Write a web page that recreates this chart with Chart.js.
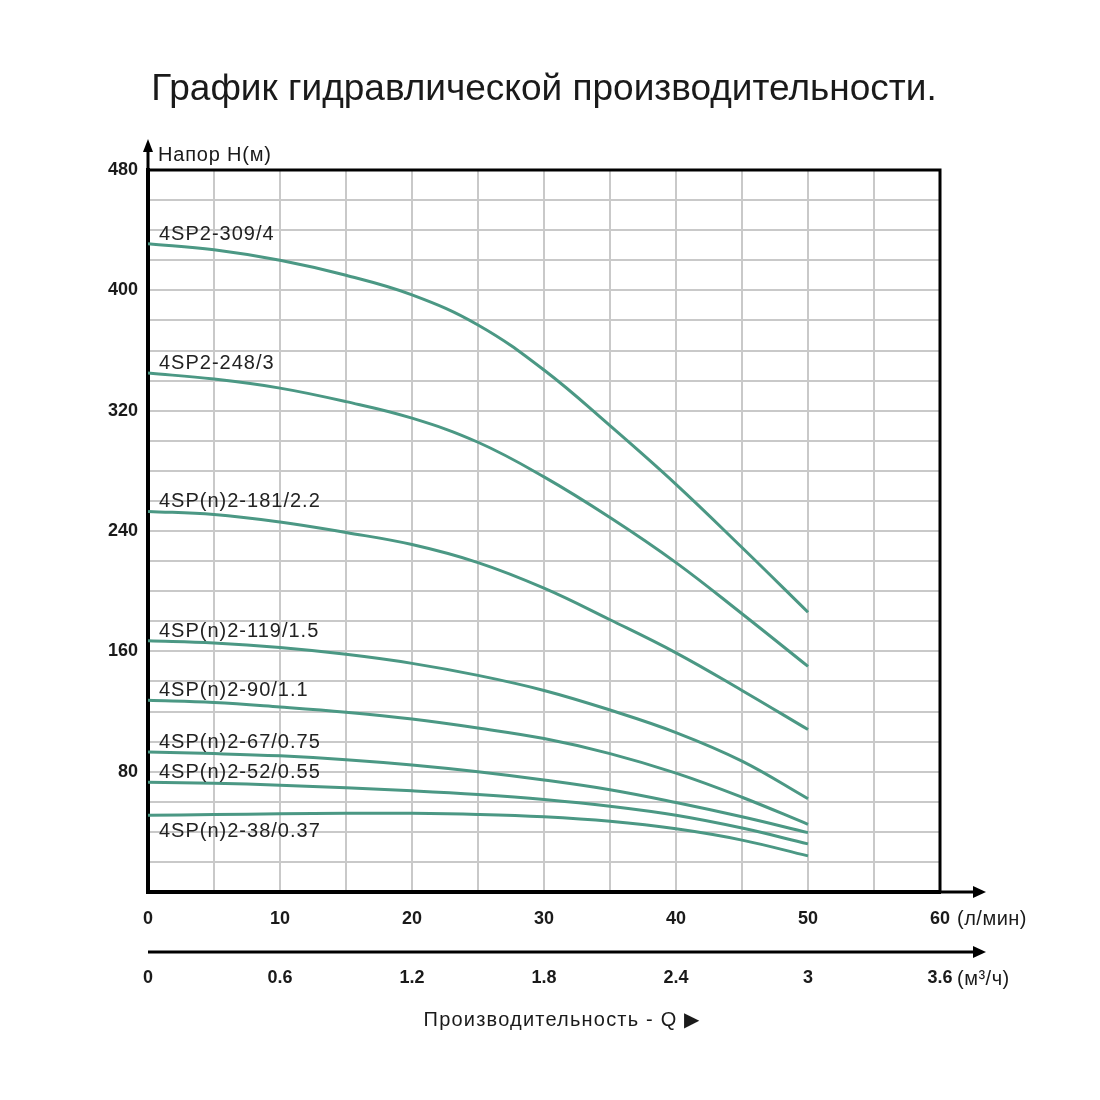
<!DOCTYPE html>
<html>
<head>
<meta charset="utf-8">
<script src="https://cdn.jsdelivr.net/npm/chart.js@4.4.0/dist/chart.umd.min.js"></script>
<style>
  body { margin: 0; background: #fff; }
  #wrap { width: 1100px; height: 1100px; }
</style>
</head>
<body>
<div id="wrap"><canvas id="myChart"></canvas></div>
<script>
// flow, l/min
const flow = [0, 5, 10, 15, 20, 25, 30, 35, 40, 45, 50]

const pumpNames = [
    '4SP2-309/4',
    '4SP2-248/3',
    '4SP(n)2-181/2.2',
    '4SP(n)2-119/1.5',
    '4SP(n)2-90/1.1',
    '4SP(n)2-67/0.75',
    '4SP(n)2-52/0.55',
    '4SP(n)2-38/0.37'
]

// head, m
const head309 = [431, 427, 420, 410, 397, 377, 347, 310, 271, 229, 186]
const head248 = [345, 341, 335, 326, 315, 299, 276, 249, 219, 185, 150]
const head181 = [253, 251, 246, 239, 231, 219, 202, 181, 159, 134, 108]
const head119 = [167, 165.5, 162.5, 158, 152, 144, 134, 121, 106, 87, 62]
const head90 = [127.5, 126, 123, 119.5, 115, 109, 102, 92, 79, 63, 45]
const head67 = [93, 92, 90.5, 88, 84.5, 80, 74.5, 68, 59.5, 50, 39.5]
const head52 = [73, 72.3, 71, 69.3, 67.3, 64.8, 61.5, 57, 51, 42.5, 32]
const head38 = [51, 51.5, 52, 52.3, 52.3, 51.6, 50, 47, 42, 34.5, 24]

const heads = [head309, head248, head181, head119, head90, head67, head52, head38]

// second flow scale, m3/h (same positions as 0,10,...,60 l/min)
const m3hTicks = ['0', '0.6', '1.2', '1.8', '2.4', '3', '3.6']

const lineColor = '#4b9884'
const fontFamily = '"Liberation Sans", Arial, sans-serif'

const arrow = (ctx, x, y, dir) => {
    ctx.beginPath()
    if (dir === 'up') {
        ctx.moveTo(x, y)
        ctx.lineTo(x - 5, y + 13)
        ctx.lineTo(x + 5, y + 13)
    } else {
        ctx.moveTo(x, y)
        ctx.lineTo(x - 13, y - 6)
        ctx.lineTo(x - 13, y + 6)
    }
    ctx.closePath()
    ctx.fill()
}

const decorations = {
    id: 'decorations',
    afterDraw(chart) {
        const { ctx, chartArea: area, scales } = chart
        const x = scales.x, y = scales.y
        ctx.save()
        ctx.fillStyle = '#1a1a1a'
        ctx.strokeStyle = '#000'

        // title
        ctx.font = '37px ' + fontFamily
        ctx.textAlign = 'center'
        ctx.textBaseline = 'middle'
        ctx.fillText('График гидравлической производительности.', 544, 90)

        // frame top & right
        ctx.lineWidth = 3
        ctx.beginPath()
        ctx.moveTo(area.left, area.top)
        ctx.lineTo(area.right, area.top)
        ctx.lineTo(area.right, area.bottom)
        ctx.stroke()

        // axis arrows
        ctx.beginPath()
        ctx.moveTo(area.left, area.top)
        ctx.lineTo(area.left, area.top - 20)
        ctx.moveTo(area.right, area.bottom)
        ctx.lineTo(area.right + 35, area.bottom)
        ctx.stroke()
        ctx.fillStyle = '#000'
        arrow(ctx, area.left, area.top - 31, 'up')
        arrow(ctx, area.right + 46, area.bottom, 'right')

        // second axis (m3/h)
        const y2 = area.bottom + 60
        ctx.beginPath()
        ctx.moveTo(area.left, y2)
        ctx.lineTo(area.right + 35, y2)
        ctx.stroke()
        arrow(ctx, area.right + 46, y2, 'right')

        ctx.fillStyle = '#1a1a1a'
        ctx.font = 'bold 18px ' + fontFamily
        ctx.textAlign = 'center'
        ctx.textBaseline = 'middle'
        m3hTicks.forEach((t, i) => {
            ctx.fillText(t, x.getPixelForValue(i * 10), y2 + 26)
        })

        // units and axis names
        ctx.font = '20px ' + fontFamily
        ctx.letterSpacing = '0.5px'
        ctx.textAlign = 'left'
        ctx.fillText('(л/мин)', x.getPixelForValue(60) + 17, area.bottom + 27)
        ctx.fillText('(м³/ч)', x.getPixelForValue(60) + 17, y2 + 27)
        ctx.textAlign = 'center'
        ctx.letterSpacing = '1.2px'
        ctx.fillText('Производительность - Q ▶', 562, area.bottom + 128)
        ctx.textAlign = 'left'
        ctx.letterSpacing = '0.8px'
        ctx.fillText('Напор Н(м)', area.left + 10, area.top - 15)

        // curve names
        ctx.font = '20px ' + fontFamily
        ctx.letterSpacing = '1px'
        ctx.fillStyle = '#222'
        ctx.textBaseline = 'alphabetic'
        pumpNames.forEach((name, i) => {
            const py = y.getPixelForValue(heads[i][0])
            const ty = i === pumpNames.length - 1 ? py + 22 : py - 4
            ctx.fillText(name, area.left + 11, ty)
        })
        ctx.restore()
    }
}

const chart = new Chart(document.getElementById('myChart').getContext('2d'), {
    type: 'line',
    data: {
        datasets: heads.map((h, i) => ({
            label: pumpNames[i],
            data: flow.map((q, j) => ({ x: q, y: h[j] })),
            borderColor: lineColor,
            borderWidth: 3,
            pointRadius: 0,
            fill: false,
            tension: 0.4
        }))
    },
    options: {
        responsive: true,
        maintainAspectRatio: false,
        animation: false,
        layout: { padding: { left: 0, right: 160, top: 170, bottom: 0 } },
        plugins: {
            legend: { display: false },
            tooltip: { enabled: false }
        },
        scales: {
            x: {
                type: 'linear',
                min: 0,
                max: 60,
                afterFit: (axis) => { axis.height = 208 },
                ticks: {
                    stepSize: 5,
                    autoSkip: false,
                    maxRotation: 0,
                    padding: 16,
                    color: '#1a1a1a',
                    font: { family: fontFamily, size: 18, weight: 'bold' },
                    callback: (v) => v % 10 === 0 ? v : ''
                },
                grid: { color: '#c9c9c9', lineWidth: 2, drawTicks: false },
                border: { color: '#000', width: 4 }
            },
            y: {
                min: 0,
                max: 480,
                afterFit: (axis) => { axis.width = 148 },
                ticks: {
                    stepSize: 20,
                    autoSkip: false,
                    padding: 10,
                    color: '#1a1a1a',
                    font: { family: fontFamily, size: 18, weight: 'bold' },
                    callback: (v) => (v % 80 === 0 && v > 0) ? v : ''
                },
                grid: { color: '#c9c9c9', lineWidth: 2, drawTicks: false },
                border: { color: '#000', width: 4 }
            }
        }
    },
    plugins: [decorations]
})
</script>
</body>
</html>
